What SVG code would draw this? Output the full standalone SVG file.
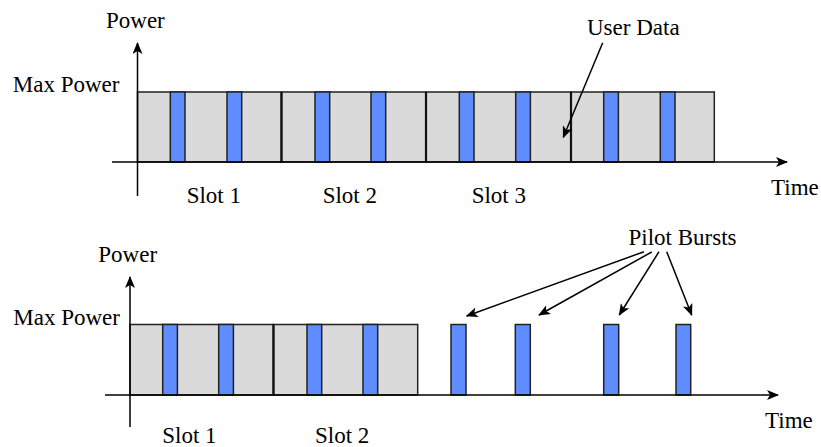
<svg xmlns="http://www.w3.org/2000/svg" width="821" height="447" viewBox="0 0 821 447">
<style>
text{font-family:"Liberation Serif","Times New Roman",serif;font-size:23px;fill:#000}
.slot{fill:#DADADA;stroke:#222;stroke-width:1.5}
.pilot{fill:#5F8DFF;stroke:#222;stroke-width:1.5}
.axis{stroke:#000;stroke-width:1.5;fill:none}
.ptr{stroke:#000;stroke-width:1.5;fill:none}
.div{stroke:#111;stroke-width:2.2}
</style>
<defs>
<marker id="ah" viewBox="0 0 12 10" refX="11" refY="5" markerWidth="12" markerHeight="10" markerUnits="userSpaceOnUse" orient="auto">
<path d="M0,0 L12,5 L0,10 L3,5 z" fill="#000"/>
</marker>
</defs>
<rect width="821" height="447" fill="#fff"/>

<g id="top-chart">
<g id="top-slot1"><rect class="slot" x="137.5" y="92" width="144" height="70"/><rect class="pilot" x="170.3" y="92" width="14.7" height="70"/><rect class="pilot" x="227" y="92" width="14.7" height="70"/></g>
<g id="top-slot2"><rect class="slot" x="281.5" y="92" width="144.5" height="70"/><rect class="pilot" x="315" y="92" width="14.7" height="70"/><rect class="pilot" x="371" y="92" width="14.7" height="70"/></g>
<g id="top-slot3"><rect class="slot" x="426" y="92" width="145" height="70"/><rect class="pilot" x="459.3" y="92" width="14.7" height="70"/><rect class="pilot" x="515.7" y="92" width="14.7" height="70"/></g>
<g id="top-slot4"><rect class="slot" x="571" y="92" width="143.3" height="70"/><rect class="pilot" x="603.7" y="92" width="14.7" height="70"/><rect class="pilot" x="660.3" y="92" width="14.7" height="70"/></g>
<line class="div" x1="281.5" y1="92" x2="281.5" y2="162"/>
<line class="div" x1="426" y1="92" x2="426" y2="162"/>
<line class="div" x1="571" y1="92" x2="571" y2="162"/>
</g>

<g id="bottom-chart">
<g id="bot-slot1"><rect class="slot" x="130" y="324.5" width="143.5" height="70.5"/><rect class="pilot" x="162.7" y="324.5" width="14.7" height="70.5"/><rect class="pilot" x="218.7" y="324.5" width="14.7" height="70.5"/></g>
<g id="bot-slot2"><rect class="slot" x="273.5" y="324.5" width="144.2" height="70.5"/><rect class="pilot" x="307" y="324.5" width="14.7" height="70.5"/><rect class="pilot" x="363" y="324.5" width="14.7" height="70.5"/></g>
<line class="div" x1="273.5" y1="324.5" x2="273.5" y2="395"/>
<g id="burst1"><rect class="pilot" x="451" y="324.5" width="15" height="70.5"/></g>
<g id="burst2"><rect class="pilot" x="515.3" y="324.5" width="15" height="70.5"/></g>
<g id="burst3"><rect class="pilot" x="603.7" y="324.5" width="15" height="70.5"/></g>
<g id="burst4"><rect class="pilot" x="676" y="324.5" width="14.7" height="70.5"/></g>
</g>

<g id="connectors">
<line class="axis" x1="137.5" y1="196" x2="137.5" y2="43" marker-end="url(#ah)"/>
<line class="axis" x1="112" y1="162" x2="787" y2="162" marker-end="url(#ah)"/>
<line class="axis" x1="130" y1="427" x2="130" y2="277" marker-end="url(#ah)"/>
<line class="axis" x1="105" y1="395" x2="778" y2="395" marker-end="url(#ah)"/>
<line class="ptr" x1="602.7" y1="42.7" x2="563.3" y2="137.3" marker-end="url(#ah)"/>
<line class="ptr" x1="644" y1="251.7" x2="466.7" y2="316" marker-end="url(#ah)"/>
<line class="ptr" x1="651.7" y1="252" x2="539" y2="315" marker-end="url(#ah)"/>
<line class="ptr" x1="659" y1="251.7" x2="619.3" y2="315" marker-end="url(#ah)"/>
<line class="ptr" x1="666.7" y1="251.7" x2="691.7" y2="315" marker-end="url(#ah)"/>
</g>

<g id="labels">
<text x="106" y="28">Power</text>
<text x="119.5" y="92" text-anchor="end">Max Power</text>
<text x="186.7" y="203">Slot 1</text>
<text x="322.7" y="203">Slot 2</text>
<text x="471.7" y="203">Slot 3</text>
<text x="771" y="195">Time</text>
<text x="587" y="35">User Data</text>
<text x="98.3" y="261.7">Power</text>
<text x="120" y="325" text-anchor="end">Max Power</text>
<text x="162.3" y="443">Slot 1</text>
<text x="315" y="443">Slot 2</text>
<text x="765" y="428">Time</text>
<text x="628.5" y="245">Pilot Bursts</text>
</g>
</svg>
